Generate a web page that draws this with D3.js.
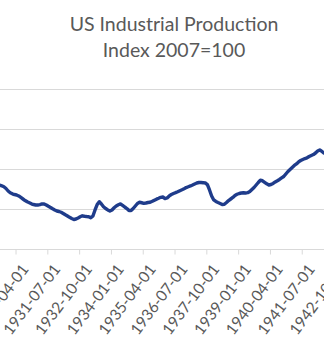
<!DOCTYPE html>
<html>
<head>
<meta charset="utf-8">
<script src="https://cdn.jsdelivr.net/npm/d3@7"></script>
<style>
  html, body { margin: 0; padding: 0; background: #ffffff; overflow: hidden; }
  svg { display: block; }
</style>
</head>
<body>
<svg id="chart" width="324" height="355"></svg>
<script>
// ---- Data (monthly series, visible window of the chart) ----
const titleLines = ["US Industrial Production", "Index 2007=100"];
const firstDataMonth = "1929-07";
const ipValues = [
  8.13, 8.00, 7.90, 7.78, 7.56, 7.25,            // 1929-07 .. 1929-12
  7.03, 6.90, 6.81, 6.75, 6.63, 6.44,            // 1930-01 .. 06
  6.25, 6.06, 5.90, 5.78, 5.65, 5.56,            // 1930-07 .. 12
  5.50, 5.50, 5.54, 5.63, 5.63, 5.50,            // 1931-01 .. 06
  5.34, 5.19, 5.03, 4.88, 4.75, 4.69,            // 1931-07 .. 12
  4.59, 4.44, 4.28, 4.13, 3.96, 3.81,            // 1932-01 .. 06
  3.69, 3.75, 3.88, 4.03, 4.15, 4.09,            // 1932-07 .. 12
  4.06, 4.04, 3.90, 4.13, 4.88, 5.56,            // 1933-01 .. 06
  5.91, 5.63, 5.29, 5.06, 4.88, 4.75,            // 1933-07 .. 12
  4.88, 5.15, 5.38, 5.53, 5.63, 5.46,            // 1934-01 .. 06
  5.25, 5.06, 4.81, 4.81, 5.06, 5.38,            // 1934-07 .. 12
  5.69, 5.84, 5.78, 5.71, 5.75, 5.81,            // 1935-01 .. 06
  5.84, 5.96, 6.10, 6.23, 6.34, 6.46,            // 1935-07 .. 12
  6.50, 6.31, 6.38, 6.63, 6.81, 6.94,            // 1936-01 .. 06
  7.04, 7.15, 7.28, 7.40, 7.53, 7.68,            // 1936-07 .. 12
  7.78, 7.88, 8.00, 8.13, 8.25, 8.31,            // 1937-01 .. 06
  8.31, 8.29, 8.25, 8.06, 7.38, 6.63,            // 1937-07 .. 12
  6.13, 5.94, 5.81, 5.69, 5.56, 5.59,            // 1938-01 .. 06
  5.81, 6.06, 6.25, 6.44, 6.69, 6.84,            // 1938-07 .. 12
  6.94, 7.00, 7.03, 7.00, 7.04, 7.19,            // 1939-01 .. 06
  7.44, 7.69, 8.00, 8.31, 8.59, 8.53,            // 1939-07 .. 12
  8.34, 8.15, 8.00, 8.06, 8.19, 8.38,            // 1940-01 .. 06
  8.53, 8.69, 8.88, 9.06, 9.38, 9.69,            // 1940-07 .. 12
  9.94, 10.19, 10.44, 10.63, 10.88, 11.06,       // 1941-01 .. 06
  11.19, 11.31, 11.40, 11.56, 11.69, 11.81,      // 1941-07 .. 12
  12.00, 12.25, 12.38, 12.19, 12.00, 12.10       // 1942-01 .. 06
];
const axisStartMonth = "1929-01";
const axisEndMonth = "1942-12";
const tickLabels = ["1929-01-01", "1930-04-01", "1931-07-01", "1932-10-01", "1934-01-01",
  "1935-04-01", "1936-07-01", "1937-10-01", "1939-01-01", "1940-04-01",
  "1941-07-01", "1942-10-01"];
const yTicks = [0, 5, 10, 15, 20];

// ---- helpers ----
function addMonths(ym, k) {
  const [y, m] = ym.split("-").map(Number);
  const t = y * 12 + (m - 1) + k;
  const yy = Math.floor(t / 12), mm = t % 12 + 1;
  return yy + "-" + String(mm).padStart(2, "0");
}
function monthDiff(a, b) {
  const [ya, ma] = a.split("-").map(Number);
  const [yb, mb] = b.split("-").map(Number);
  return (yb * 12 + mb) - (ya * 12 + ma);
}
const nMonths = monthDiff(axisStartMonth, axisEndMonth) + 1;
const months = d3.range(nMonths).map(i => addMonths(axisStartMonth, i));
const data = ipValues.map((v, i) => ({ month: addMonths(firstDataMonth, i), value: v }));

// ---- layout ----
const svg = d3.select("#chart");
const W = 324, H = 355;
const step = 2.12;
const refIdx = months.indexOf("1931-07");
const startX = 48.4 - step * (refIdx + 0.5);
const plotTop = 89, plotBottom = 249;

const xBand = d3.scaleBand().domain(months)
  .range([startX, startX + step * nMonths]).paddingInner(0).paddingOuter(0);
const xIdx = d3.scaleLinear().domain([0, nMonths]).range([startX, startX + step * nMonths]);
const y = d3.scaleLinear().domain([0, 20]).range([plotBottom, plotTop]);

// gridlines
svg.append("g").selectAll("line").data(yTicks).join("line")
  .attr("x1", 0).attr("x2", W)
  .attr("y1", d => Math.round(y(d)) + 0.5).attr("y2", d => Math.round(y(d)) + 0.5)
  .attr("stroke", "#d9d9d9").attr("stroke-width", 1);

// x axis
const tickIdx = tickLabels.map(l => months.indexOf(l.slice(0, 7)));
const xAxis = d3.axisBottom(xIdx).tickValues(tickIdx)
  .tickFormat(i => tickLabels[tickIdx.indexOf(i)]).tickSize(5).tickSizeOuter(0);
const gx = svg.append("g").attr("transform", `translate(0,${plotBottom + 0.5})`).call(xAxis);
gx.select(".domain").remove();
gx.selectAll(".tick line").attr("stroke", "#d9d9d9");
gx.selectAll(".tick text")
  .attr("fill", "#595959")
  .style("font-family", "Lato, 'Open Sans', sans-serif")
  .style("font-size", "15.5px")
  .attr("x", 0).attr("y", 0).attr("dy", "0.35em")
  .attr("text-anchor", "end")
  .attr("transform", "translate(9,16.5) rotate(-53)");

// line
const line = d3.line()
  .x(d => xBand(d.month) + xBand.bandwidth() / 2)
  .y(d => y(d.value))
  .curve(d3.curveLinear);
svg.append("path").datum(data)
  .attr("d", line)
  .attr("fill", "none")
  .attr("stroke", "#1f3c8b")
  .attr("stroke-width", 3.4)
  .attr("stroke-linejoin", "round")
  .attr("stroke-linecap", "round");

// title
const title = svg.append("text")
  .attr("text-anchor", "middle")
  .attr("fill", "#595959")
  .style("font-family", "Lato, 'Open Sans', sans-serif")
  .style("font-size", "19.5px");
title.selectAll("tspan").data(titleLines).join("tspan")
  .attr("x", 174)
  .attr("y", (d, i) => i === 0 ? 31 : 56.5)
  .text(d => d);
</script>
</body>
</html>
